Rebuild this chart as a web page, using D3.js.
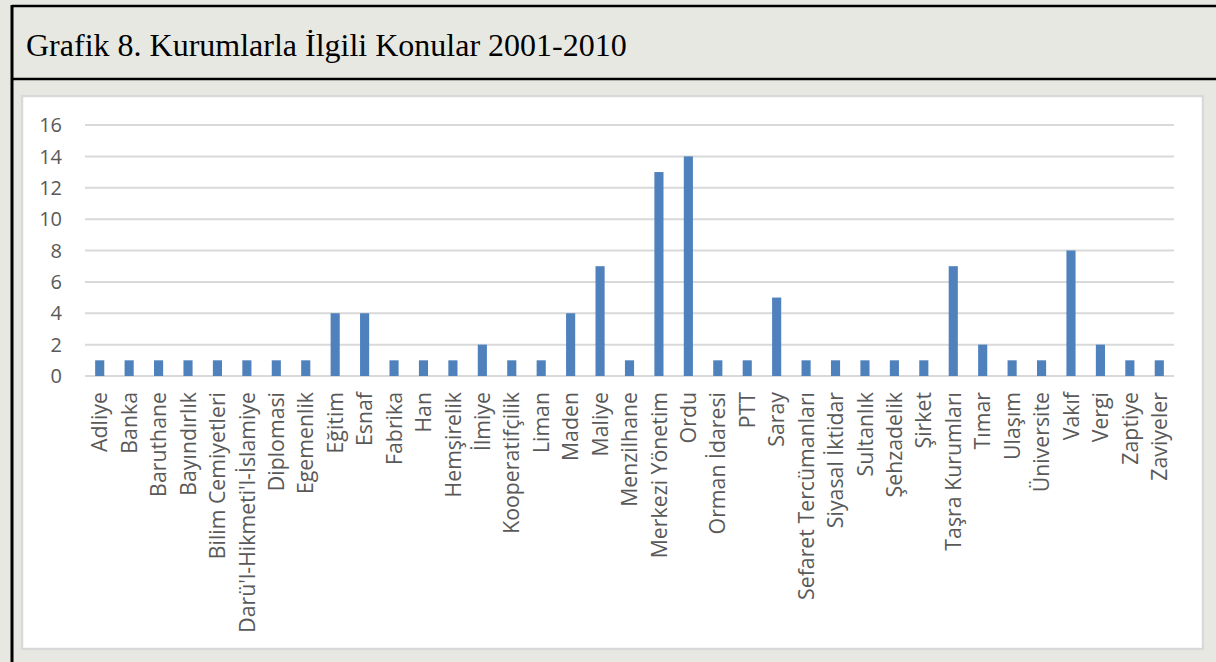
<!DOCTYPE html>
<html>
<head>
<meta charset="utf-8">
<script src="https://cdn.jsdelivr.net/npm/d3@7"></script>
<style>
  html, body { margin: 0; padding: 0; background: #e8e8e3; }
  svg { display: block; }
</style>
</head>
<body>
<div id="chart"></div>
<script>
var categories = ["Adliye","Banka","Baruthane","Bayındırlık","Bilim Cemiyetleri","Darü'l-Hikmeti'l-İslamiye",
  "Diplomasi","Egemenlik","Eğitim","Esnaf","Fabrika","Han","Hemşirelik","İlmiye","Kooperatifçilik","Liman",
  "Maden","Maliye","Menzilhane","Merkezi Yönetim","Ordu","Orman İdaresi","PTT","Saray","Sefaret Tercümanları",
  "Siyasal İktidar","Sultanlık","Şehzadelik","Şirket","Taşra Kurumları","Tımar","Ulaşım","Üniversite","Vakıf",
  "Vergi","Zaptiye","Zaviyeler"];
var values = [1,1,1,1,1,1,1,1,4,4,1,1,1,2,1,1,4,7,1,13,14,1,1,5,1,1,1,1,1,7,2,1,1,8,2,1,1];
var yTicks = [0,2,4,6,8,10,12,14,16];
var title = "Grafik 8. Kurumlarla İlgili Konular 2001-2010";

var W = 1216, H = 662;
var svg = d3.select("#chart").append("svg")
    .attr("width", W).attr("height", H);

// frame
svg.append("rect").attr("x", 0).attr("y", 0).attr("width", W).attr("height", H).attr("fill", "#e8e8e3");
svg.append("line").attr("x1", 12).attr("x2", W).attr("y1", 6).attr("y2", 6)
    .attr("stroke", "#000").attr("stroke-width", 2.5);
svg.append("line").attr("x1", 12).attr("x2", W).attr("y1", 79).attr("y2", 79)
    .attr("stroke", "#000").attr("stroke-width", 2.5);
svg.append("line").attr("x1", 12).attr("x2", 12).attr("y1", 5).attr("y2", H)
    .attr("stroke", "#000").attr("stroke-width", 3);

svg.append("text")
    .attr("x", 26).attr("y", 56)
    .attr("font-family", "'Liberation Serif', 'Times New Roman', serif")
    .attr("font-size", 32)
    .attr("fill", "#000")
    .text(title);

// chart panel
svg.append("rect")
    .attr("x", 22).attr("y", 96).attr("width", 1181).attr("height", 553)
    .attr("fill", "#fff").attr("stroke", "#d9d9d9").attr("stroke-width", 2.5);

var x = d3.scaleBand().domain(categories).range([85, 1174]).paddingInner(0.69).paddingOuter(0.345);
var y = d3.scaleLinear().domain([0, 16]).range([376, 125]);

var font = "'Open Sans', 'Noto Sans', sans-serif";

// gridlines
svg.append("g").selectAll("line")
    .data(yTicks)
    .enter().append("line")
    .attr("x1", 85).attr("x2", 1174)
    .attr("y1", function(d){ return y(d); })
    .attr("y2", function(d){ return y(d); })
    .attr("stroke", "#d9d9d9")
    .attr("stroke-width", 2);

// y labels
svg.append("g").selectAll("text")
    .data(yTicks)
    .enter().append("text")
    .attr("x", 62)
    .attr("y", function(d){ return y(d); })
    .attr("dy", "0.36em")
    .attr("text-anchor", "end")
    .attr("font-family", font)
    .attr("font-size", 20)
    .attr("fill", "#595959")
    .text(function(d){ return d; });

// bars
svg.append("g").selectAll("rect")
    .data(values)
    .enter().append("rect")
    .attr("x", function(d, i){ return x(categories[i]); })
    .attr("y", function(d){ return y(d); })
    .attr("width", x.bandwidth())
    .attr("height", function(d){ return y(0) - y(d); })
    .attr("fill", "#4f81bd");

// category labels
svg.append("g").selectAll("text")
    .data(categories)
    .enter().append("text")
    .attr("transform", function(d){
        return "translate(" + (x(d) + x.bandwidth() / 2) + ",392) rotate(-90)";
    })
    .attr("dy", "0.36em")
    .attr("text-anchor", "end")
    .attr("font-family", font)
    .attr("font-size", 21.3)
    .attr("fill", "#595959")
    .text(function(d){ return d; });
</script>
</body>
</html>
